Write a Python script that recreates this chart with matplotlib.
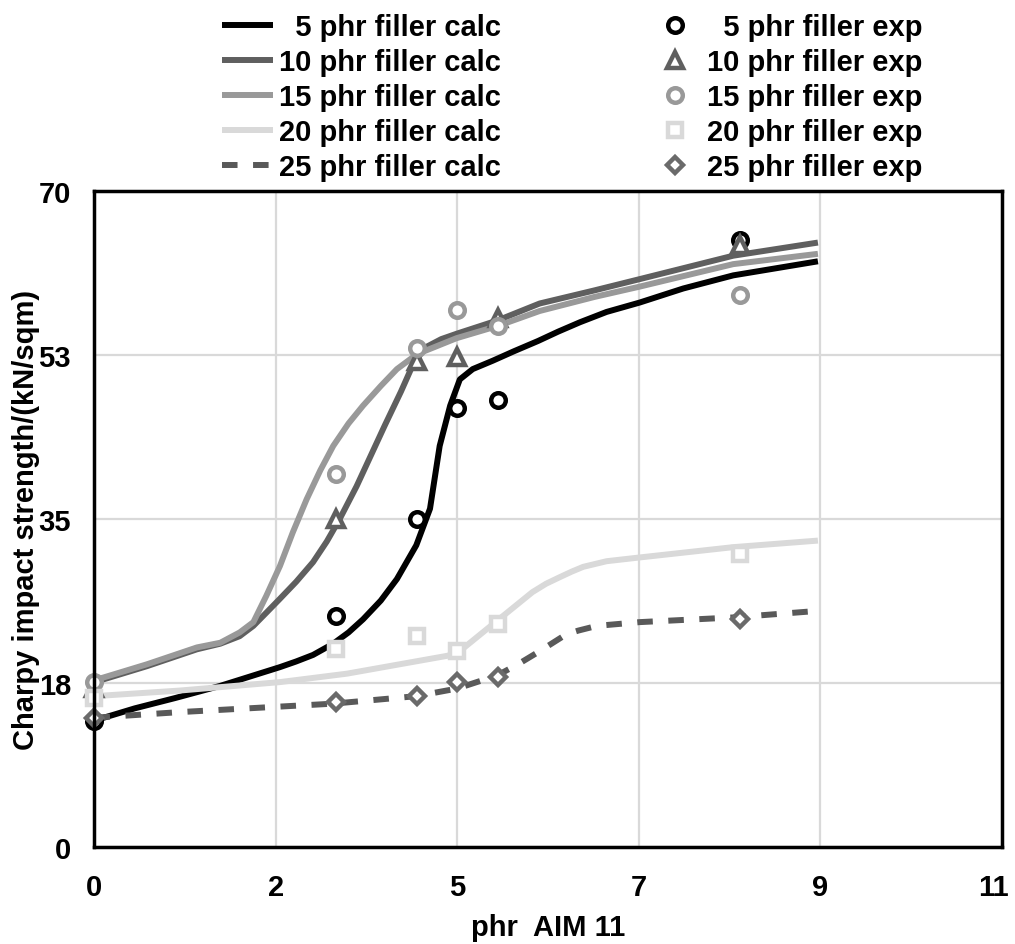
import matplotlib
matplotlib.use('Agg')
import matplotlib.pyplot as plt
from matplotlib.transforms import ScaledTranslation

plt.rcParams['font.family'] = ['Liberation Sans', 'DejaVu Sans']
plt.rcParams['font.weight'] = 'bold'

# calculated curves
calc_5_x = [0, 0.5, 1.0, 1.56, 2.3, 2.5, 2.71, 2.96, 3.15, 3.33, 3.55, 3.75, 3.99, 4.16,
            4.28, 4.41, 4.53, 4.69, 4.94, 5.2, 5.5, 5.75, 6.02, 6.35, 6.76, 7.3, 7.92, 8.97]
calc_5_y = [13.5, 14.8, 15.9, 17.2, 19.2, 19.8, 20.5, 21.7, 22.9, 24.3, 26.3, 28.6, 32.2, 36.1,
            42.8, 47.1, 49.9, 51.0, 51.9, 52.9, 54.0, 55.0, 56.0, 57.1, 58.1, 59.6, 61.0, 62.5]

calc_10_x = [0, 0.65, 1.27, 1.56, 1.8, 1.97, 2.13, 2.3, 2.5, 2.71, 2.88, 3.04, 3.25, 3.6,
             3.8, 3.95, 4.1, 4.3, 4.5, 5.0, 5.52, 6.2, 6.76, 7.92, 8.97]
calc_10_y = [17.6, 19.3, 21.1, 21.7, 22.5, 23.6, 25.0, 26.5, 28.3, 30.4, 32.6, 35.0, 38.5, 45.0,
             48.6, 51.5, 53.3, 54.2, 54.8, 56.2, 58.0, 59.4, 60.6, 63.1, 64.5]

calc_15_x = [0, 0.65, 1.27, 1.56, 1.8, 1.97, 2.13, 2.3, 2.46, 2.63, 2.8, 2.96, 3.15,
             3.33, 3.55, 3.75, 4.0, 4.49, 5.0, 5.52, 6.2, 6.76, 7.92, 8.97]
calc_15_y = [17.8, 19.5, 21.3, 21.8, 22.9, 24.0, 26.8, 30.0, 33.6, 37.1, 40.2, 42.8, 45.2,
             47.1, 49.2, 51.0, 52.6, 54.3, 55.6, 57.2, 58.7, 59.8, 62.2, 63.3]

calc_20_x = [0, 1.06, 2.3, 3.13, 4.37, 4.5, 5.0, 5.43, 5.6, 5.77, 5.92, 6.06, 6.35,
             6.76, 7.92, 8.97]
calc_20_y = [16.1, 16.7, 17.6, 18.5, 20.4, 20.7, 24.2, 27.2, 28.1, 28.8, 29.4, 29.9, 30.5,
             30.9, 32.0, 32.7]

calc_25_x = [0, 1.06, 2.96, 3.99, 4.49, 4.99, 5.25, 5.52, 5.85, 6.0, 6.23, 6.76, 7.92, 8.97]
calc_25_y = [13.8, 14.4, 15.3, 16.1, 16.9, 18.3, 19.5, 20.9, 22.7, 23.1, 23.6, 24.0, 24.5, 25.2]

# experimental points
exp_x = [0, 3, 4, 4.5, 5, 8]
exp_5 = [13.4, 24.6, 35.0, 46.9, 47.7, 64.8]
exp_10 = [17.0, 35.0, 51.9, 52.3, 56.5, 64.2]
exp_15 = [17.6, 39.8, 53.3, 57.3, 55.6, 58.9]
exp_20 = [15.9, 21.1, 22.5, 20.9, 23.8, 31.3]
exp_25 = [13.8, 15.5, 16.1, 17.6, 18.1, 24.3]

calc_labels = ['  5 phr filler calc', '10 phr filler calc', '15 phr filler calc',
               '20 phr filler calc', '25 phr filler calc']
exp_labels = ['  5 phr filler exp', '10 phr filler exp', '15 phr filler exp',
              '20 phr filler exp', '25 phr filler exp']

x_ticks = [0, 2.25, 4.5, 6.75, 9, 11.25]
x_tick_labels = ['0', '2', '5', '7', '9', '11']
y_ticks = [0, 17.5, 35, 52.5, 70]
y_tick_labels = ['0', '18', '35', '53', '70']

fig = plt.figure(figsize=(10.15, 9.45), dpi=100)
ax = fig.add_axes([0.0931, 0.1026, 0.8939, 0.6942])

calc = [(calc_5_x, calc_5_y, '#000000', '-'),
        (calc_10_x, calc_10_y, '#5f5f5f', '-'),
        (calc_15_x, calc_15_y, '#999999', '-'),
        (calc_20_x, calc_20_y, '#d9d9d9', '-'),
        (calc_25_x, calc_25_y, '#595959', '--')]

handles_calc = []
for (xs, ys, col, ls), lab in zip(calc, calc_labels):
    line, = ax.plot(xs, ys, color=col, lw=4.3, ls=ls, label=lab,
                    solid_capstyle='butt', solid_joinstyle='round',
                    dash_capstyle='butt', zorder=3)
    if ls == '--':
        line.set_dashes((2.6, 2.6))
    handles_calc.append(line)

# marker, colour, size
exps = [(exp_5, 'o', '#000000', 10.5),
        (exp_10, '^', '#5f5f5f', 11.5),
        (exp_15, 'o', '#999999', 10.5),
        (exp_20, 's', '#d9d9d9', 10.5),
        (exp_25, 'D', '#6a6a6a', 8.3)]

handles_exp = []
for (ys, mk, col, ms), lab in zip(exps, exp_labels):
    pts, = ax.plot(exp_x, ys, ls='none', marker=mk, ms=ms, mew=3.2,
                   mec=col, mfc='white', label=lab, clip_on=False, zorder=4)
    handles_exp.append(pts)

ax.set_xlim(0, 11.25)
ax.set_ylim(0, 70)
ax.set_xticks(x_ticks)
ax.set_xticklabels(x_tick_labels)
ax.set_yticks(y_ticks)
ax.set_yticklabels(y_tick_labels)
ax.tick_params(axis='both', length=0, labelsize=21)
ax.tick_params(axis='y', pad=17)
ax.tick_params(axis='x', pad=19)

# last x label sits on the right edge, nudge it in a bit
last = ax.get_xticklabels()[-1]
last.set_transform(last.get_transform() + ScaledTranslation(-6 / 72, 0, fig.dpi_scale_trans))

ax.grid(True, color='#d9d9d9', lw=1.6)
ax.set_axisbelow(True)
for sp in ax.spines.values():
    sp.set_linewidth(2.5)
    sp.set_color('black')
    sp.set_zorder(5)

ax.set_xlabel('phr  AIM 11', fontsize=21, fontweight='bold', labelpad=8)
ax.set_ylabel('Charpy impact strength/(kN/sqm)', fontsize=21, fontweight='bold',
              labelpad=-1)

fig.legend(handles_calc + handles_exp, calc_labels + exp_labels, ncol=2,
           loc='upper center', bbox_to_anchor=(0.5636, 1.0085), frameon=False,
           fontsize=21, handlelength=1.75, handletextpad=0.2,
           columnspacing=5.1, labelspacing=0.24, borderpad=0.25)

fig.savefig('out.png', dpi=100)
